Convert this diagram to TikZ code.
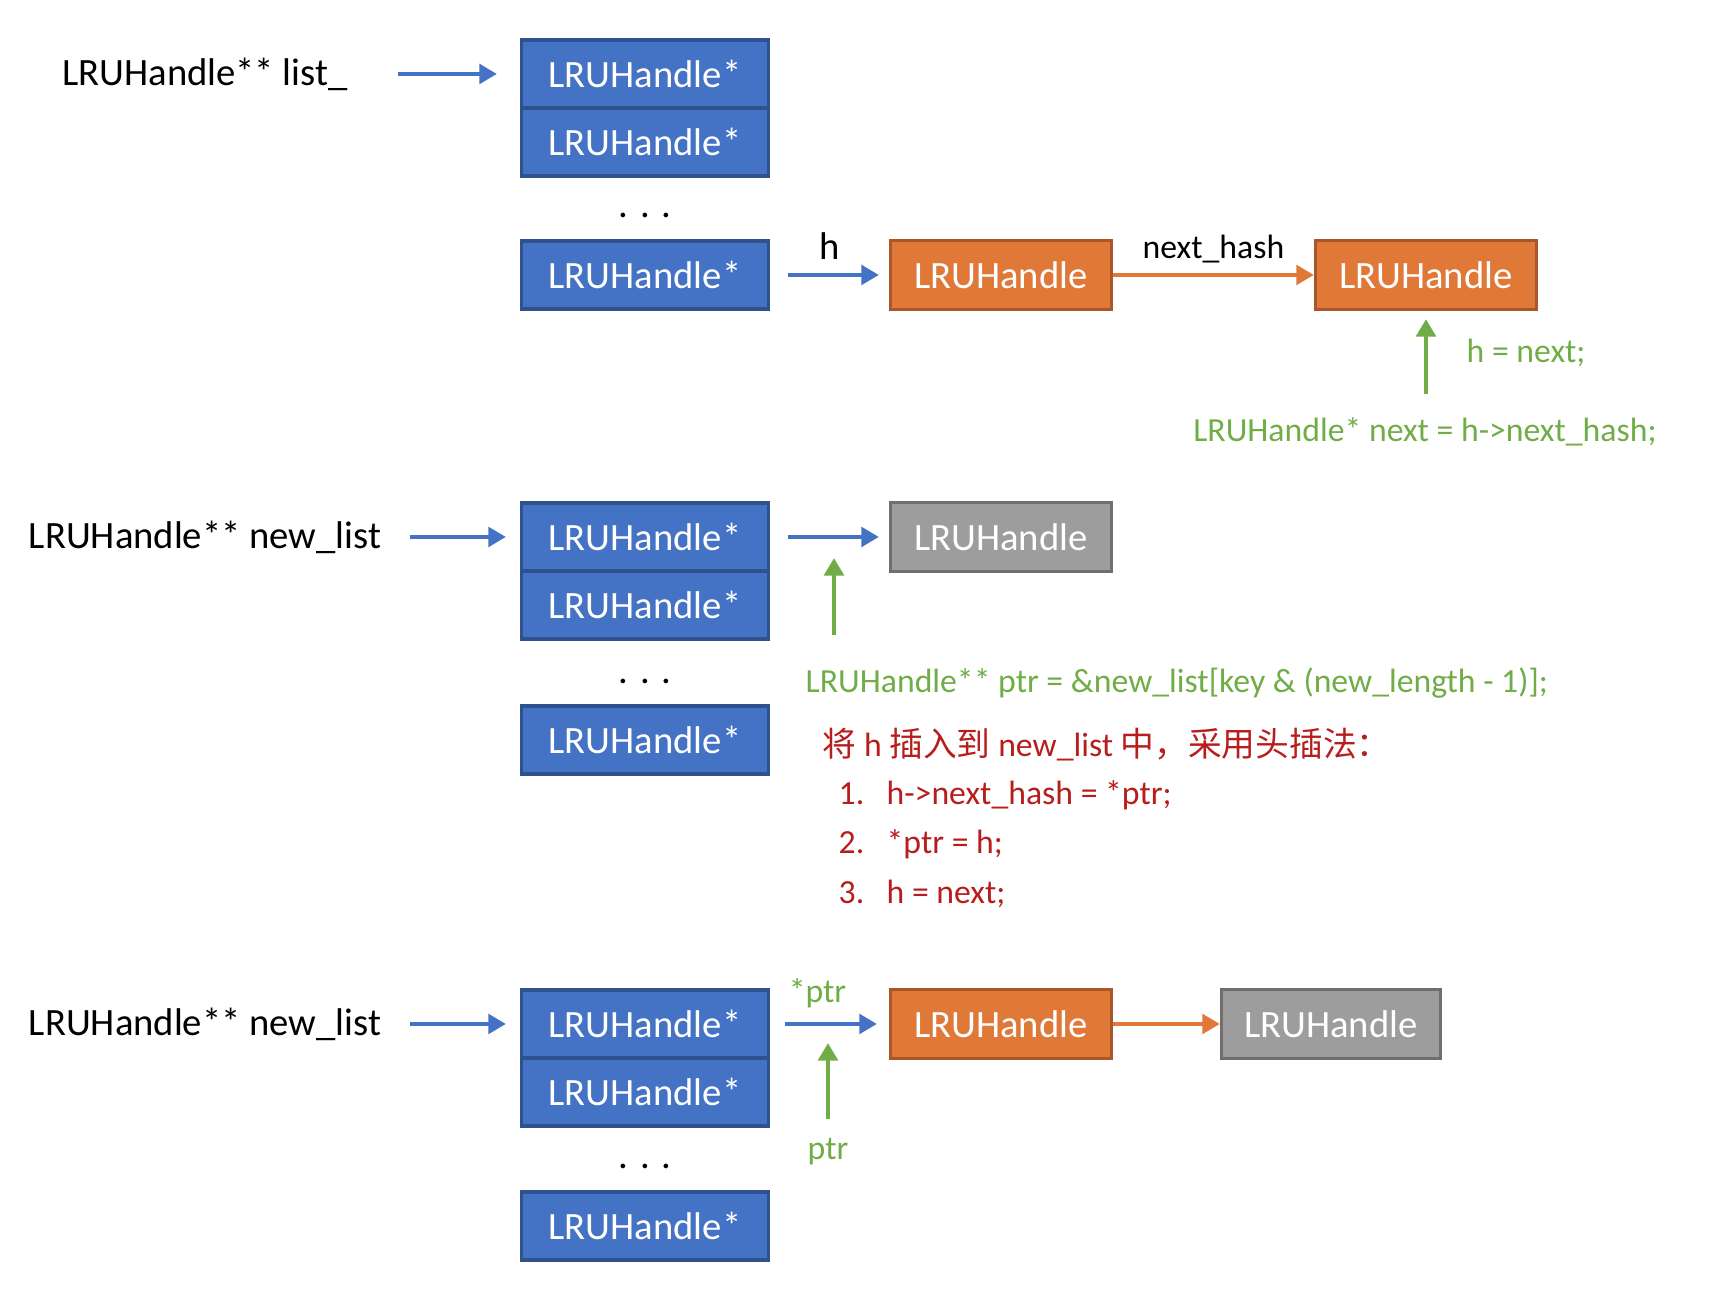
\documentclass[tikz,border=0pt]{standalone}
\usepackage{fontspec}
\setmainfont{Carlito}
\newfontfamily\cjk{Noto Sans CJK SC}
\usetikzlibrary{arrows.meta}

\definecolor{slotblue}{HTML}{4472C4}
\definecolor{slotedge}{HTML}{2F528F}
\definecolor{liveorange}{HTML}{E07838}
\definecolor{liveedge}{HTML}{A9572A}
\definecolor{oldgray}{HTML}{9D9D9D}
\definecolor{oldedge}{HTML}{6F6F6F}
\definecolor{codegreen}{HTML}{70AD47}
\definecolor{notered}{HTML}{B81D1D}

\begin{document}
\begin{tikzpicture}[
  slot/.style={rectangle, draw=slotedge, fill=slotblue, line width=0.9pt, text=white, minimum width=2.47cm, minimum height=0.68cm, inner sep=0pt, font=\fontsize{11}{13}\selectfont},
  entry/.style={rectangle, line width=0.9pt, text=white, minimum width=2.21cm, minimum height=0.69cm, inner sep=0pt, font=\fontsize{11}{13}\selectfont},
  live/.style={entry, draw=liveedge, fill=liveorange},
  old/.style={entry, draw=oldedge, fill=oldgray},
  txt/.style={inner sep=0pt, text=black, font=\fontsize{11}{13}\selectfont},
  code/.style={inner sep=0pt, text=codegreen, font=\fontsize{9.6}{11.5}\selectfont},
  note/.style={inner sep=0pt, text=notered, font=\fontsize{9.6}{11.5}\selectfont},
  ptrarrow/.style={-{Triangle[length=5pt,width=5.5pt]}, line width=1.3pt, slotblue},
  hasharrow/.style={-{Triangle[length=5pt,width=5.5pt]}, line width=1.3pt, liveorange},
  steparrow/.style={-{Triangle[length=5pt,width=5.5pt]}, line width=1.3pt, codegreen}
]
\useasboundingbox (0,0) rectangle (17.16,13.0);

% Old table list_
\node (list-lbl) at (2.05,12.26) [txt] {LRUHandle** list\_};
\node (slot-a1) at (6.45,12.26) [slot] {LRUHandle*};
\node (slot-a2) at (6.45,11.58) [slot] {LRUHandle*};
\node (dots-a) at (6.45,10.85) [txt] {. . .};
\node (slot-a3) at (6.45,10.25) [slot] {LRUHandle*};

% Chain under the last bucket
\node (hd-1) at (10.01,10.25) [live] {LRUHandle};
\node (nx-1) at (14.26,10.25) [live] {LRUHandle};
\coordinate (hnext-tail) at (14.26,9.06);
\node (h-next) at (14.66,9.47) [code, anchor=west] {h = next;};
\node (next-code) at (14.25,8.68) [code] {LRUHandle* next = h->next\_hash;};

\draw[ptrarrow, shorten <=0.5cm, shorten >=0.23cm] (list-lbl) -- (slot-a1);
\draw[ptrarrow, shorten <=0.18cm, shorten >=0.1cm] (slot-a3) -- node[above=0.13cm, txt] {h} (hd-1);
\draw[hasharrow] (hd-1) -- node[above=0.1cm, txt, font=\fontsize{9.6}{11.5}\selectfont] {next\_hash} (nx-1);
\draw[steparrow, shorten >=0.08cm] (hnext-tail) -- (nx-1);

% New table, before the insert
\node (new-lbl-b) at (2.05,7.63) [txt] {LRUHandle** new\_list};
\node (slot-b1) at (6.45,7.63) [slot] {LRUHandle*};
\node (slot-b2) at (6.45,6.95) [slot] {LRUHandle*};
\node (dots-b) at (6.45,6.19) [txt] {. . .};
\node (slot-b3) at (6.45,5.60) [slot] {LRUHandle*};
\node (old-1) at (10.01,7.63) [old] {LRUHandle};
\coordinate (ptr-tail) at (8.34,6.65);
\coordinate (ptr-tip) at (8.34,7.42);

\draw[ptrarrow, shorten <=0.28cm, shorten >=0.14cm] (new-lbl-b) -- (slot-b1);
\draw[ptrarrow, shorten <=0.18cm, shorten >=0.1cm] (slot-b1) -- (old-1);
\draw[steparrow] (ptr-tail) -- (ptr-tip);

% Insert steps
\node (ptr-code) at (8.05,6.17) [code, anchor=west] {LRUHandle** ptr = \&new\_list[key \& (new\_length - 1)];};
\node (insert-note) at (8.22,5.55) [note, anchor=west] {{\cjk 将} h {\cjk 插入到} new\_list {\cjk 中，采用头插法：}};
\node (step-1) at (8.38,5.05) [note, anchor=west] {\makebox[0.48cm][l]{1.}h->next\_hash = *ptr;};
\node (step-2) at (8.38,4.56) [note, anchor=west] {\makebox[0.48cm][l]{2.}*ptr = h;};
\node (step-3) at (8.38,4.06) [note, anchor=west] {\makebox[0.48cm][l]{3.}h = next;};

% New table, after the insert
\node (new-lbl-c) at (2.05,2.76) [txt] {LRUHandle** new\_list};
\node (slot-c1) at (6.45,2.76) [slot] {LRUHandle*};
\node (slot-c2) at (6.45,2.08) [slot] {LRUHandle*};
\node (dots-c) at (6.45,1.34) [txt] {. . .};
\node (slot-c3) at (6.45,0.74) [slot] {LRUHandle*};
\node (hd-2) at (10.01,2.76) [live] {LRUHandle};
\node (old-2) at (13.31,2.76) [old, minimum width=2.19cm] {LRUHandle};
\node (ptr-lbl) at (8.28,1.48) [code] {ptr};
\coordinate (star-tip) at (8.28,2.57);

\draw[ptrarrow, shorten <=0.28cm, shorten >=0.14cm] (new-lbl-c) -- (slot-c1);
\draw[ptrarrow, shorten <=0.15cm, shorten >=0.12cm] (slot-c1) -- node[above=0.14cm, code, xshift=-0.12cm] {*ptr} (hd-2);
\draw[hasharrow] (hd-2) -- (old-2);
\draw[steparrow, shorten <=0.19cm] (ptr-lbl) -- (star-tip);

\end{tikzpicture}
\end{document}
